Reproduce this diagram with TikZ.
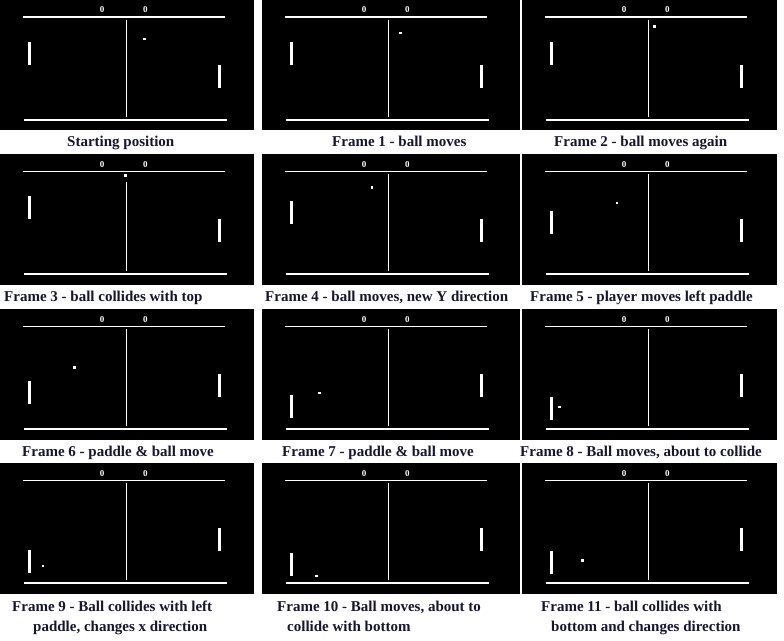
\documentclass[tikz,border=0pt]{standalone}
\usepackage{fontspec}
\setmainfont{Liberation Serif}
\definecolor{captxt}{RGB}{22,22,48}
\tikzset{
  score/.style={text=white,font=\fontsize{9}{10}\selectfont\bfseries,inner sep=0pt},
  caption/.style={text=captxt,font=\fontsize{15}{18}\selectfont\bfseries,inner sep=0pt,anchor=base west},
  field/.style={fill=black},
  chalk/.style={fill=white}
}
% #1 ox, #2 oy, #3 black width, #4 left paddle top, #5 ball x, #6 ball y, #7 name, #8 centre line top
\newcommand\pongframe[8]{%
\begin{scope}[shift={(#1,#2)}]
\fill[field] (0,0) rectangle (#3,130.5);
\fill[chalk] (23,16.5) rectangle (225,18.3);
\fill[chalk] (23.5,119.2) rectangle (226.5,121);
\fill[chalk] (126,#8) rectangle (127,117.3);
\node[score] (#7sa) at (102.2,10.3) {0};
\node[score] (#7sb) at (145.3,10.3) {0};
\fill[chalk] (28,#4) rectangle (31,#4+23);
\fill[chalk] (218,65) rectangle (221,88);
\fill[chalk] (#5-1.3,#6-1.3) rectangle (#5+1.3,#6+1.3);
\end{scope}}
\begin{document}
\begin{tikzpicture}[x=1pt,y=-1pt]
\useasboundingbox[fill=white] (0,0) rectangle (784,640);
% row 1
\pongframe{0}{-0.5}{254}{42}{144.5}{39.5}{fa}{20}
\pongframe{262}{-0.5}{257.5}{42}{138.3}{33.3}{fb}{20}
\pongframe{522}{-0.5}{254.5}{42}{132.3}{27.2}{fc}{20}
% row 2
\pongframe{0}{154}{254}{42}{125.7}{21.2}{fd}{28.3}
\pongframe{262}{154}{257.5}{46.7}{110}{33.2}{fe}{20}
\pongframe{522}{154}{254.5}{57}{95}{48.8}{ff}{20}
% row 3
\pongframe{0}{309}{254}{72}{74.5}{58.3}{fg}{20}
\pongframe{262}{309}{257.5}{86}{57.2}{84}{fh}{20}
\pongframe{522}{309}{254.5}{87.7}{37.5}{98}{fi}{20}
% row 4
\pongframe{0}{463}{254}{87}{42.8}{103}{fj}{20}
\pongframe{262}{463}{257.5}{89.7}{54.2}{113}{fk}{20}
\pongframe{522}{463}{254.5}{88}{60.3}{97.5}{fl}{20}
% captions
\node[caption] (ca) at (67,146.7) {Starting position};
\node[caption] (cb) at (332,146.7) {Frame 1 - ball moves};
\node[caption] (cc) at (554,146.7) {Frame 2 - ball moves again};
\node[caption] (cd) at (4,301.7) {Frame 3 - ball collides with top};
\node[caption] (ce) at (265,301.7) {Frame 4 - ball moves, new Y direction};
\node[caption] (cf) at (530,301.7) {Frame 5 - player moves left paddle};
\node[caption] (cg) at (22,456.7) {Frame 6 - paddle \& ball move};
\node[caption] (ch) at (282,456.7) {Frame 7 - paddle \& ball move};
\node[caption] (ci) at (520,456.7) {Frame 8 - Ball moves, about to collide};
\node[caption] (cj1) at (12,611.7) {Frame 9 - Ball collides with left};
\node[caption] (cj2) at (33,631.7) {paddle, changes x direction};
\node[caption] (ck1) at (277,611.7) {Frame 10 - Ball moves, about to};
\node[caption] (ck2) at (287,631.7) {collide with bottom};
\node[caption] (cl1) at (541,611.7) {Frame 11 - ball collides with};
\node[caption] (cl2) at (551,631.7) {bottom and changes direction};
\end{tikzpicture}
\end{document}
